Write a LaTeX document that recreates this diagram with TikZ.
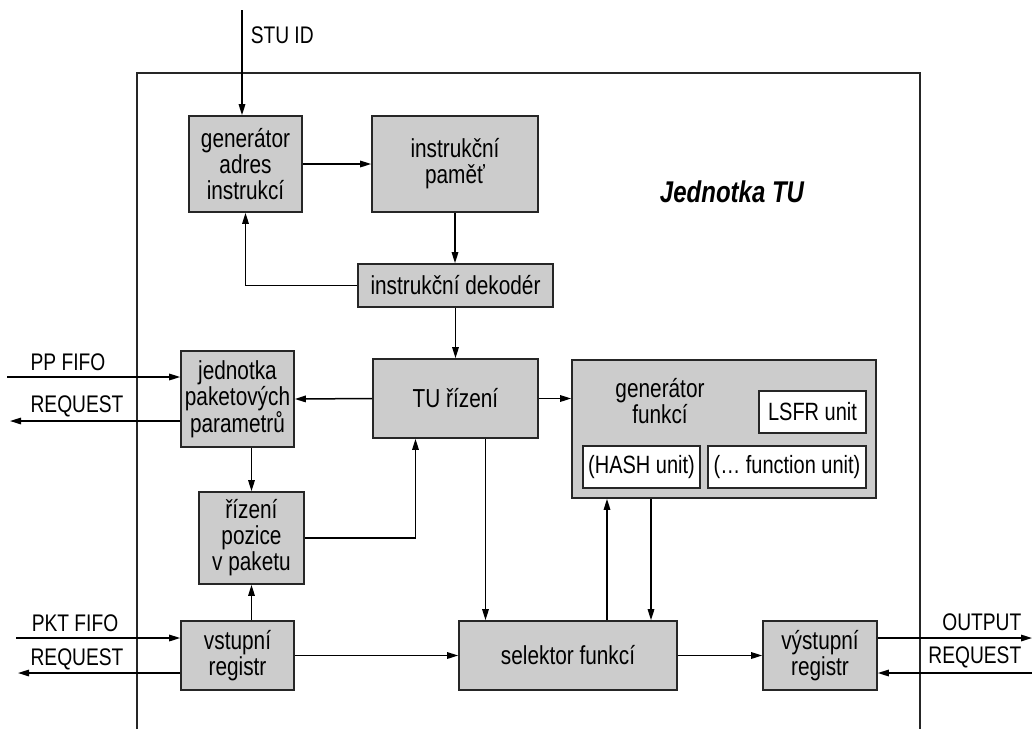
\documentclass[tikz,border=0pt]{standalone}
\usepackage{fontspec}
\setmainfont{Liberation Sans}[FakeStretch=0.8]
\usetikzlibrary{arrows.meta}
\usetikzlibrary{calc}

\tikzset{
    blok/.style={draw=black!85, fill=black!20, line width=1.6pt, align=center, inner sep=0pt,
        font=\fontsize{26}{26}\selectfont},
    unit/.style={draw=black!85, fill=white, line width=1.6pt, inner sep=0pt,
        font=\fontsize{25}{26}\selectfont},
    lbl/.style={inner sep=0pt},
}

\begin{document}
\begin{tikzpicture}[x=1pt, y=-1pt, line width=1.5pt,
        >={Triangle[length=11pt,width=6.5pt]},
        font=\fontsize{24}{26}\selectfont]
            \useasboundingbox (0,0) rectangle (1032,729);
            % ramecek jednotky
            \draw[black!85, line width=1.3pt] (137,729) |- (920,73) -- (920,729);
            \node[lbl] (nazev) at (732,192) {\fontsize{30}{32}\selectfont\bfseries\itshape Jednotka TU};

            % bloky
            \node[blok, minimum width=113, minimum height=96] (gen) at (245.5,164) {generátor\\adres\\instrukcí};
            \node[blok, minimum width=166, minimum height=96] (mem) at (455,164) {instrukční\\paměť};
            \node[blok, minimum width=195, minimum height=43] (dec) at (455.5,285.5) {instrukční dekodér};
            \node[blok, minimum width=165, minimum height=79] (ctl) at (455.5,398.5) {TU řízení};
            \node[blok, minimum width=113, minimum height=96] (pp) at (237.5,399) {jednotka\\paketových\\parametrů};
            \node[blok, minimum width=105, minimum height=92] (pos) at (251.5,538) {řízení\\pozice\\v paketu};
            \node[blok, minimum width=113, minimum height=69] (inreg) at (237.5,655.5) {vstupní\\registr};
            \node[blok, minimum width=218, minimum height=69] (sel) at (568,655.5) {selektor funkcí};
            \node[blok, minimum width=114, minimum height=69] (outreg) at (820,655.5) {výstupní\\registr};

            % generator funkci
            \node[blok, minimum width=304, minimum height=138] (fun) at (724,429) {};
            \node[lbl, align=center, font=\fontsize{26}{26}\selectfont] (funlbl) at (660,401) {generátor\\funkcí};
            \node[unit, minimum width=107, minimum height=42] (lsfr) at (812.5,412) {LSFR unit};
            \node[unit, minimum width=117, minimum height=42] (hash) at (641.5,467) {(HASH unit)};
            \node[unit, minimum width=158, minimum height=42] (fu) at (787,467) {(\dots{} function unit)};

            % vnejsi signaly
            \coordinate (stu) at (242,10);
            \coordinate (ppin) at (7,377);
            \coordinate (ppreq) at (10,421);
            \coordinate (pktin) at (16,638);
            \coordinate (pktreq) at (18,673);
            \coordinate (outo) at (1032,638);
            \coordinate (outreq) at (1032,673);
            \node[lbl, anchor=west] (stulbl) at (250,35) {STU ID};
            \node[lbl] (pplbl) at (68,362) {PP FIFO};
            \node[lbl] (ppreqlbl) at (77,406) {REQUEST};
            \node[lbl] (pktlbl) at (75,623) {PKT FIFO};
            \node[lbl] (pktreqlbl) at (77,659) {REQUEST};
            \node[lbl, anchor=east] (outlbl) at (1022,622) {OUTPUT};
            \node[lbl, anchor=east] (outreqlbl) at (1022,657) {REQUEST};

            % odbocky
            \coordinate (posup) at ([xshift=-40pt]ctl.south);
            \coordinate (ctldn) at ([xshift=30pt]ctl.south);
            \coordinate (funup) at ([xshift=-117pt]fun.south);
            \coordinate (fundn) at ([xshift=-73pt]fun.south);

            \draw[->] (stu) -- (stu |- gen.north);
            \draw[->] (gen.east) -- (mem.west);
            \draw[->] (mem) -- (mem |- dec.north);
            \draw[->] (dec.west) -| (gen.south);
            \draw[->] (dec) -- (dec |- ctl.north);
            \draw[->] (ctl.west) -- (pp.east);
            \draw[->] (ctl.east) -- (ctl.east -| fun.west);
            \draw[->] (ppin) -- (ppin -| pp.west);
            \draw[->] (ppreq -| pp.west) -- (ppreq);
            \draw[->] (pos |- pp.south) -- (pos.north);
            \draw[->] (pos.east) -| (posup);
            \draw[->] (ctldn) -- (ctldn |- sel.north);
            \draw[->] (funup |- sel.north) -- (funup);
            \draw[->] (fundn) -- (fundn |- sel.north);
            \draw[->] (pos |- inreg.north) -- (pos.south);
            \draw[->] (pktin) -- (pktin -| inreg.west);
            \draw[->] (pktreq -| inreg.west) -- (pktreq);
            \draw[->] (inreg.east) -- (sel.west);
            \draw[->] (sel.east) -- (outreg.west);
            \draw[->] (outo -| outreg.east) -- (outo);
            \draw[->] (outreq) -- (outreq -| outreg.east);
        \end{tikzpicture}
\end{document}
